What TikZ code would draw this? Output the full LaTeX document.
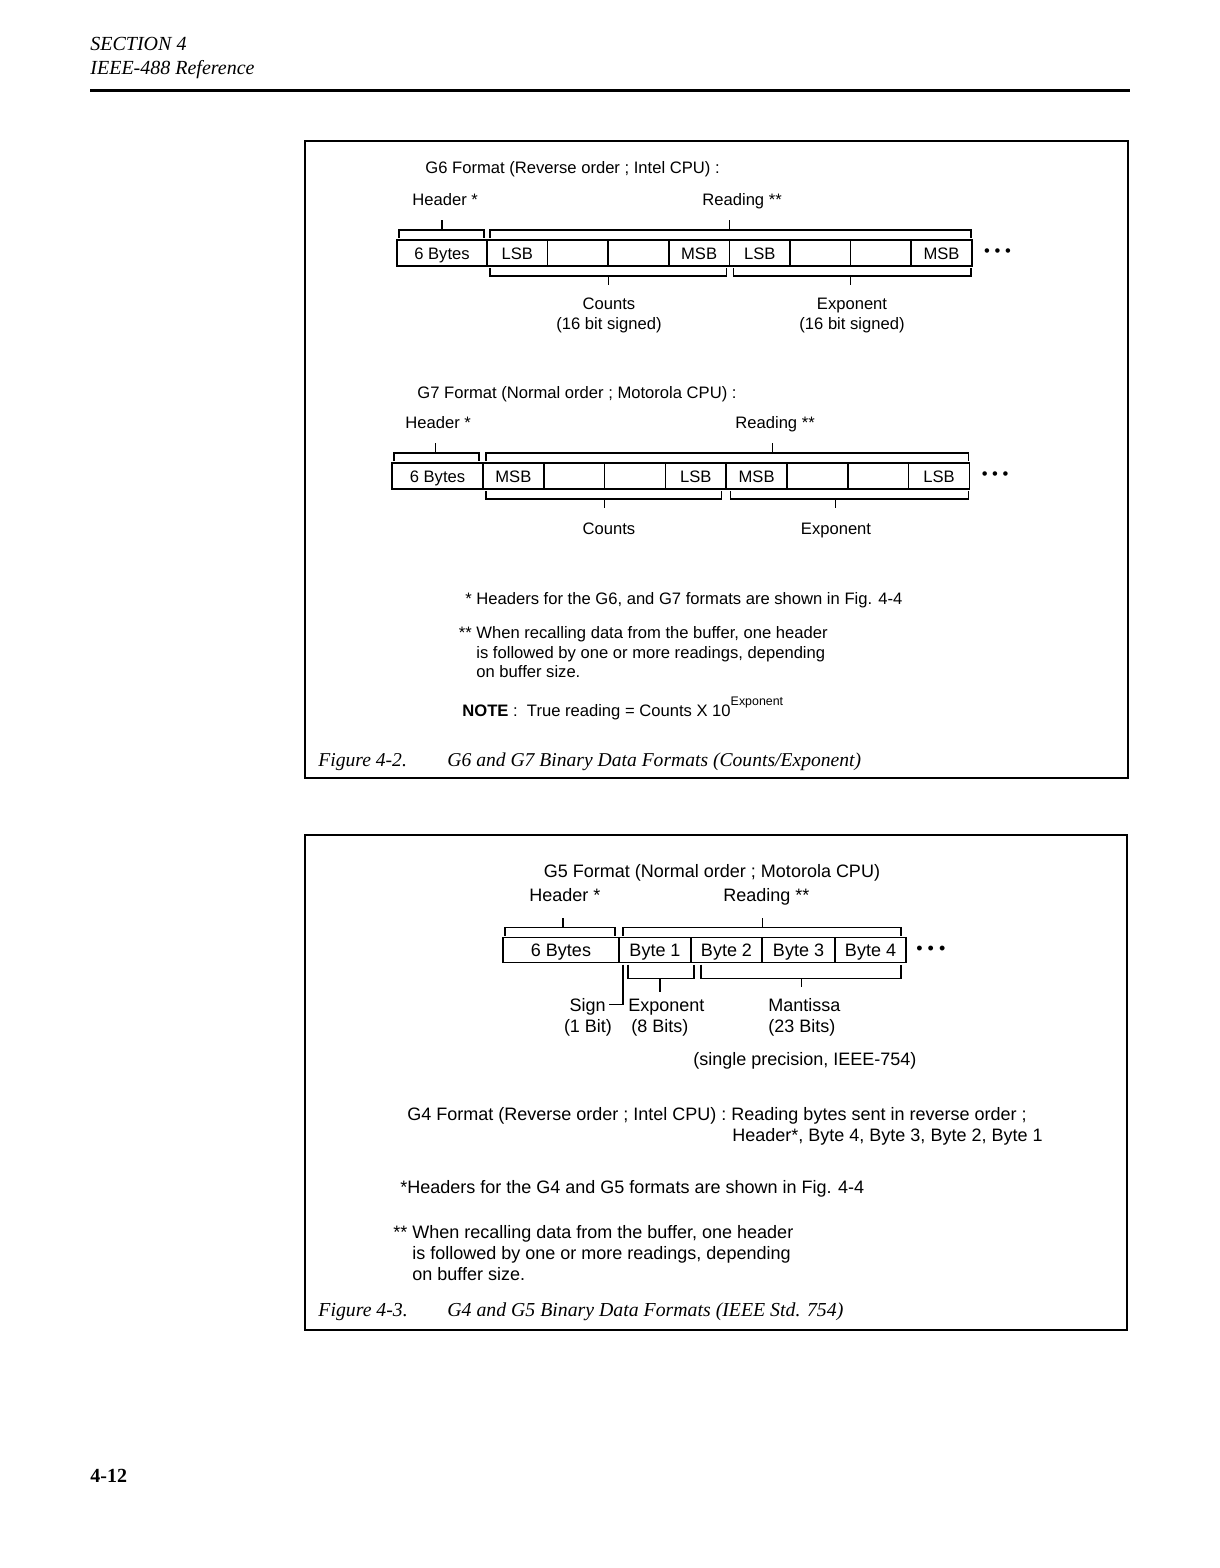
\documentclass[tikz,border=0pt]{standalone}
\usepackage{fontspec}
\setmainfont{Liberation Sans}
\newfontfamily\capfont{Liberation Serif}
\usetikzlibrary{positioning,calc}

\begin{document}
\begin{tikzpicture}[x=0.5pt,y=-0.5pt,
every node/.style={
        font=\fontsize{8.3}{10}\selectfont, inner sep=0pt
    },
    cell/.style = {draw, line width=0.8pt, anchor=west, outer sep=0pt,
                   text height=1.6ex, text depth=0.3ex,
                   minimum height=13pt, minimum width=#1},
    cell/.default = 30.3pt,
    txt/.style = {anchor=base west},
    ctr/.style = {anchor=base},
    captxt/.style = {anchor=base west, font=\capfont\itshape\fontsize{9.8}{12}\selectfont},
    brk/.style = {line width=0.7pt},
    frame/.style = {line width=1pt},
    dots/.style = {anchor=west}
    ]
\useasboundingbox (0,0) rectangle (1220,1568);

% page head
\node (sec)  [captxt, font=\capfont\itshape\fontsize{10}{12}\selectfont] at (90,51) {SECTION 4};
\node (ref)  [captxt, font=\capfont\itshape\fontsize{10}{12}\selectfont] at (90,75) {IEEE-488 Reference};
\draw[line width=1.5pt] (90,91) -- (1130,91);
\node (page) [anchor=base west, font=\capfont\bfseries\fontsize{10}{12}\selectfont] at (90,1482) {4-12};

%% Figure 4-2
\draw[frame] (305,141) rectangle (1128,778);

% G6
\node (g6) [txt] at (425,173) {G6 Format (Reverse order ; Intel CPU) :};
\node (hd6) [txt] at (412,205) {Header *};
\node (rd6) [txt] at (702,205) {Reading **};
\node (h6)  [cell=45pt] at (397,253) {6 Bytes};
\node (c6a) [cell, right=0pt of h6]  {LSB};
\node (c6b) [cell, right=0pt of c6a] {};
\node (c6c) [cell, right=0pt of c6b] {};
\node (c6d) [cell, right=0pt of c6c] {MSB};
\node (e6a) [cell, right=0pt of c6d] {LSB};
\node (e6b) [cell, right=0pt of e6a] {};
\node (e6c) [cell, right=0pt of e6b] {};
\node (e6d) [cell, right=0pt of e6c] {MSB};
\node (dt6) [dots, right=6pt of e6d] {\textbullet\ \textbullet\ \textbullet};
% brackets
\draw[brk] ($(h6.north west)+(2,-2)$) -- ++(0,-8) -| ($(h6.north east)+(-3,-2)$);
\draw[brk] ($(h6.north)+(0,-10)$) -- ++(0,-10);
\draw[brk] ($(c6a.north west)+(3,-2)$) -- ++(0,-8) -| ($(e6d.north east)+(-1,-2)$);
\draw[brk] ($(c6a.north west)!0.5!(e6d.north east)+(0,-10)$) -- ++(0,-10);
\draw[brk] ($(c6a.south west)+(3,2)$) -- ++(0,8) -| ($(c6d.south east)+(-3,2)$);
\draw[brk] ($(c6a.south west)!0.5!(c6d.south east)+(0,10)$) -- ++(0,9);
\draw[brk] ($(e6a.south west)+(4,2)$) -- ++(0,8) -| ($(e6d.south east)+(-1,2)$);
\draw[brk] ($(e6a.south west)!0.5!(e6d.south east)+(0,10)$) -- ++(0,9);
\node (cn6) [ctr] at (609,309) {Counts};
\node (cs6) [ctr] at (609,329) {(16 bit signed)};
\node (ex6) [ctr] at (852,309) {Exponent};
\node (es6) [ctr] at (852,329) {(16 bit signed)};

% G7
\node (g7) [txt] at (417,398) {G7 Format (Normal order ; Motorola CPU) :};
\node (hd7) [txt] at (405,428) {Header *};
\node (rd7) [txt] at (735,428) {Reading **};
\node (h7)  [cell=45.5pt] at (392,476) {6 Bytes};
\node (c7a) [cell=30.4pt, right=0pt of h7]  {MSB};
\node (c7b) [cell=30.4pt, right=0pt of c7a] {};
\node (c7c) [cell=30.4pt, right=0pt of c7b] {};
\node (c7d) [cell=30.4pt, right=0pt of c7c] {LSB};
\node (e7a) [cell=30.4pt, right=0pt of c7d] {MSB};
\node (e7b) [cell=30.4pt, right=0pt of e7a] {};
\node (e7c) [cell=30.4pt, right=0pt of e7b] {};
\node (e7d) [cell=30.4pt, right=0pt of e7c] {LSB};
\node (dt7) [dots, right=6pt of e7d] {\textbullet\ \textbullet\ \textbullet};
\draw[brk] ($(h7.north west)+(2,-2)$) -- ++(0,-8) -| ($(h7.north east)+(-4,-2)$);
\draw[brk] ($(h7.north)+(-2,-10)$) -- ++(0,-10);
\draw[brk] ($(c7a.north west)+(3,-2)$) -- ++(0,-8) -| ($(e7d.north east)+(-1,-2)$);
\draw[brk] ($(c7a.north west)!0.595!(e7d.north east)+(0,-10)$) -- ++(0,-10);
\draw[brk] ($(c7a.south west)+(3,2)$) -- ++(0,8) -| ($(c7d.south east)+(-5,2)$);
\draw[brk] ($(c7a.south west)!0.5!(c7d.south east)+(0,10)$) -- ++(0,9);
\draw[brk] ($(e7a.south west)+(4,2)$) -- ++(0,8) -| ($(e7d.south east)+(-1,2)$);
\draw[brk] ($(e7a.south west)!0.45!(e7d.south east)+(0,10)$) -- ++(0,9);
\node (cn7) [ctr] at (609,534) {Counts};
\node (ex7) [ctr] at (836,534) {Exponent};

% notes
\node (n1)  [txt] at (476,604) {\llap{* }Headers for the G6, and G7 formats are shown in Fig. 4-4};
\node (n2a) [txt] at (476,638) {\llap{** }When recalling data from the buffer, one header};
\node (n2b) [txt] at (476,658) {is followed by one or more readings, depending};
\node (n2c) [txt] at (476,677) {on buffer size.};
\node (nt)  [txt] at (462,716) {\textbf{NOTE} :\ \ True reading = Counts X 10\raisebox{5.5pt}{\fontsize{6.2}{7}\selectfont Exponent}};
\node (f42) [captxt] at (318,766) {Figure 4-2.};
\node (t42) [captxt] at (447,766) {G6 and G7 Binary Data Formats (Counts/Exponent)};

%% Figure 4-3
\draw[frame] (305,835) rectangle (1127,1330);

\begin{scope}[every node/.append style={font=\fontsize{9}{11}\selectfont}]
% G5
\node (g5)  [ctr] at (712,877) {G5 Format (Normal order ; Motorola CPU)};
\node (hd5) [txt] at (529,901) {Header *};
\node (rd5) [txt] at (723,901) {Reading **};
\node (h5)  [cell=58pt, minimum height=12.5pt] at (503,950) {6 Bytes};
\node (b1)  [cell=36pt, minimum height=12.5pt, right=0pt of h5] {Byte 1};
\node (b2)  [cell=35.5pt, minimum height=12.5pt, right=0pt of b1] {Byte 2};
\node (b3)  [cell=36.5pt, minimum height=12.5pt, right=0pt of b2] {Byte 3};
\node (b4)  [cell=35.5pt, minimum height=12.5pt, right=0pt of b3] {Byte 4};
\node (dt5) [dots, right=5pt of b4] {\textbullet\ \textbullet\ \textbullet};
\draw[brk] ($(h5.north west)+(2,-2)$) -- ++(0,-8) -| ($(h5.north east)+(-4,-2)$);
\draw[brk] ($(h5.north)+(2,-10)$) -- ++(0,-10);
\draw[brk] ($(b1.north west)+(4,-2)$) -- ++(0,-8) -| ($(b4.north east)+(-5,-2)$);
\draw[brk] ($(b1.north west)!0.5!(b4.north east)+(0,-10)$) -- ++(0,-10);
% sign bit
\coordinate (sg) at ($(b1.south west)+(4,2)$);
\draw[brk] (sg) -- ++(0,40) -- ++(-14,0);
% exponent and mantissa
\draw[brk] ($(b1.south west)+(9,2)$) -- ++(0,14) -| ($(b1.south east)+(3,2)$);
\draw[brk] ($(b1.south west)!0.5!(b1.south east)+(5,16)$) -- ++(0,13);
\draw[brk] ($(b2.south west)+(10,2)$) -- ++(0,14) -| ($(b4.south east)+(-5,2)$);
\draw[brk] ($(b2.south west)!0.5!(b4.south east)+(3,16)$) -- ++(0,8);
\node (sgn) [anchor=base east] at (606,1011) {Sign};
\node (sgb) [ctr] at (588,1032) {(1 Bit)};
\node (exn) [txt] at (628,1011) {Exponent};
\node (exb) [txt] at (631,1032) {(8 Bits)};
\node (man) [txt] at (768,1011) {Mantissa};
\node (mab) [txt] at (768,1032) {(23 Bits)};
\node (sp)  [txt] at (693,1065) {(single precision, IEEE-754)};

% G4
\node (g4a) [txt] at (407,1120) {G4 Format (Reverse order ; Intel CPU) : Reading bytes sent in reverse order ;};
\node (g4b) [txt] at (732,1141) {Header*, Byte 4, Byte 3, Byte 2, Byte 1};
\node (m1)  [txt] at (400,1193) {*Headers for the G4 and G5 formats are shown in Fig. 4-4};
\node (m2a) [txt] at (412,1238) {\llap{** }When recalling data from the buffer, one header};
\node (m2b) [txt] at (412,1259) {is followed by one or more readings, depending};
\node (m2c) [txt] at (412,1280) {on buffer size.};
\node (f43) [captxt, font=\capfont\itshape\fontsize{9.9}{12}\selectfont] at (318,1316) {Figure 4-3.};
\node (t43) [captxt, font=\capfont\itshape\fontsize{9.9}{12}\selectfont] at (447,1316) {G4 and G5 Binary Data Formats (IEEE Std. 754)};
\end{scope}
\end{tikzpicture}
\end{document}
